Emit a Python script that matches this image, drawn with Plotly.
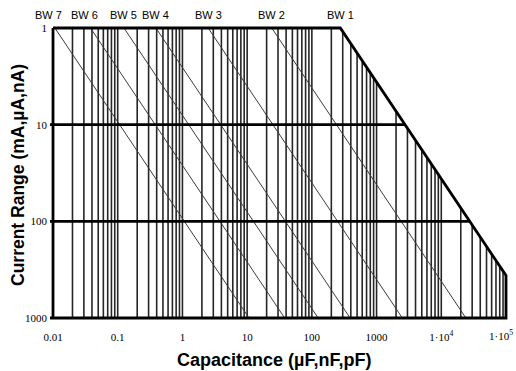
import numpy as np
import plotly.graph_objects as go

# ---------------- data ----------------
bw_names = ["BW 7", "BW 6", "BW 5", "BW 4", "BW 3", "BW 2", "BW 1"]
# capacitance at which each bandwidth line meets current range = 1
bw_start_cap = [0.0107, 0.038, 0.125, 0.39, 2.5, 24, 275]

x_tick_vals = [0.01, 0.1, 1, 10, 100, 1000, 1e4, 1e5]
x_tick_text = ["0.01", "0.1", "1", "10", "100", "1000", "1·10<sup>4</sup>", "1·10<sup>5</sup>"]
y_tick_vals = [1, 10, 100, 1000]
y_tick_text = ["1", "10", "100", "1000"]

grid_multipliers = [1, 2, 3, 4, 5, 6, 7, 8, 9]
grid_decades = [0.01, 0.1, 1, 10, 100, 1000, 1e4]
heavy_currents = [10, 100]

x_min, x_max = 0.01, 1e5
y_min, y_max = 1, 1000

# ---------------- layout geometry ----------------
W, H = 516, 371
ml, mr, mt, mb = 50, 8, 25, 50
data_px_l, data_px_r = 53, 506
data_px_t, data_px_b = 28, 318
dec_px = (data_px_r - data_px_l) / 7.0
dec_py = (data_px_b - data_px_t) / 3.0
x_range = [np.log10(x_min) - (data_px_l - ml) / dec_px,
           np.log10(x_max) + ((W - mr) - data_px_r) / dec_px]
y_range = [np.log10(y_max) + ((H - mb) - data_px_b) / dec_py,
           np.log10(y_min) - (data_px_t - mt) / dec_py]
x_edge = 10 ** x_range[0]

bw1 = bw_start_cap[-1]


def limit_current(c):
    return max(y_min, c / bw1)


fig = go.Figure()

# vertical grid lines (clipped by BW1 boundary)
gx, gy = [], []
for d in grid_decades:
    for m in grid_multipliers:
        c = d * m
        if c <= x_min * 1.0001 or c >= x_max * 0.9999:
            continue
        gx += [c, c, None]
        gy += [y_max, limit_current(c), None]
fig.add_trace(go.Scatter(x=gx, y=gy, mode="lines",
                         line=dict(color="#262626", width=1.6),
                         hoverinfo="skip", showlegend=False))

# thin bandwidth lines BW7..BW2
for name, s in zip(bw_names[:-1], bw_start_cap[:-1]):
    fig.add_trace(go.Scatter(x=[s, s * (y_max / y_min)], y=[y_min, y_max],
                             mode="lines", line=dict(color="#3c3c3c", width=1),
                             hoverinfo="skip", showlegend=False))

# heavy horizontal lines
for cur in heavy_currents:
    fig.add_trace(go.Scatter(x=[x_edge, bw1 * cur], y=[cur, cur], mode="lines",
                             line=dict(color="black", width=2.6),
                             hoverinfo="skip", showlegend=False))

# outline: left, bottom, right, BW1 boundary, top
end_cur = x_max / bw1
fig.add_trace(go.Scatter(
    x=[x_min, x_min, None, x_edge, x_max, x_max, bw1, x_min],
    y=[y_min, y_max, None, y_max, y_max, end_cur, y_min, y_min],
    mode="lines", line=dict(color="black", width=2.8),
    hoverinfo="skip", showlegend=False))

# BW labels
label_xshift = [-6, -6, 0, 0, 0, 0, 0]
for name, s, dx in zip(bw_names, bw_start_cap, label_xshift):
    fig.add_annotation(x=np.log10(s), xref="x", y=1, yref="paper",
                       yanchor="bottom", yshift=2, xshift=dx,
                       text=name, showarrow=False,
                       font=dict(family="Liberation Sans, Arial", size=11, color="black"))

tick_font = dict(family="Liberation Serif, Times New Roman", size=11, color="black")

# last x tick label kept inside the page (right-aligned at the edge)
fig.add_annotation(x=1, xref="paper", xanchor="right", xshift=mr - 1,
                   y=0, yref="paper", yanchor="top", yshift=-5,
                   text=x_tick_text[-1], showarrow=False, font=tick_font)

# axis titles
fig.add_annotation(x=0.5, xref="paper", y=0, yref="paper", yanchor="middle",
                   yshift=-(360 - (H - mb)), xshift=-5,
                   text="<b>Capacitance (µF,nF,pF)</b>", showarrow=False,
                   font=dict(family="Liberation Sans, Arial", size=18, color="black"))
fig.add_annotation(x=0, xref="paper", y=0.5, yref="paper", xanchor="center",
                   xshift=-(ml - 18), yshift=-2, textangle=-90,
                   text="<b>Current Range (mA,µA,nA)</b>", showarrow=False,
                   font=dict(family="Liberation Sans, Arial", size=17.5, color="black"))

fig.update_xaxes(type="log", range=x_range, tickvals=x_tick_vals[:-1], ticktext=x_tick_text[:-1],
                 showgrid=False, zeroline=False, showline=False, ticks="",
                 ticklabelstandoff=8, automargin=False, tickfont=tick_font)
fig.update_yaxes(type="log", range=y_range, tickvals=y_tick_vals, ticktext=y_tick_text,
                 showgrid=False, zeroline=False, showline=False, ticks="",
                 ticklabelstandoff=2, automargin=False, tickfont=tick_font)
fig.update_layout(width=W, height=H, margin=dict(l=ml, r=mr, t=mt, b=mb, autoexpand=False),
                  plot_bgcolor="white", paper_bgcolor="white", showlegend=False)

fig.write_html("out.html")
